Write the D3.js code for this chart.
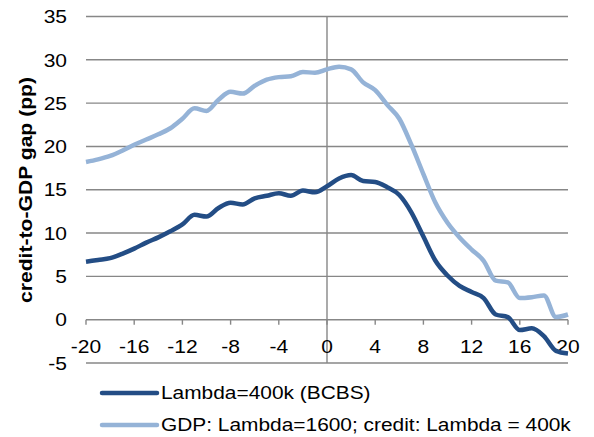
<!DOCTYPE html>
<html>
<head>
<meta charset="utf-8">
<script src="https://cdn.jsdelivr.net/npm/d3@7"></script>
<style>
  body { margin: 0; background: #fff; }
  text { font-family: Arial, "Liberation Sans", sans-serif; fill: #000; }
</style>
</head>
<body>
<div class="gap-plot"></div>
<script>
// quarters around the crisis, t = 0
const quarters = d3.range(-20, 21);

const bcbs = [6.7, 6.9, 7.1, 7.6, 8.2, 8.9, 9.5, 10.2, 11.0, 12.1,
  11.9, 12.9, 13.5, 13.3, 14.0, 14.3, 14.6, 14.3, 14.9, 14.7,
  15.4, 16.3, 16.7, 16.0, 15.9, 15.3, 14.4, 12.4, 9.6, 6.8,
  5.1, 3.9, 3.2, 2.5, 0.6, 0.3, -1.2, -1.0, -1.9, -3.6, -3.9];

const gdp1600 = [18.2, 18.5, 18.9, 19.5, 20.2, 20.8, 21.4, 22.1, 23.2, 24.4,
  24.1, 25.4, 26.3, 26.1, 27.0, 27.7, 28.0, 28.1, 28.6, 28.5,
  28.9, 29.2, 28.9, 27.4, 26.5, 24.8, 23.2, 20.2, 16.8, 13.5,
  11.2, 9.5, 8.1, 6.8, 4.5, 4.3, 2.5, 2.6, 2.8, 0.3, 0.6];

const xTicks = d3.range(-20, 21, 4);
const yTicks = d3.range(-5, 36, 5);

const seriesNames = ['Lambda=400k (BCBS)', 'GDP: Lambda=1600; credit: Lambda = 400k'];
const seriesColors = ['#234d85', '#95b3d7'];

const width = 594;
const height = 437;
const stretch = 1.13;

const svg = d3.select('.gap-plot').append('svg')
  .attr('width', width)
  .attr('height', height);

const x = d3.scaleLinear()
  .domain([-20, 20])
  .range([86, 568]);

const y = d3.scaleLinear()
  .domain([-5, 35])
  .range([363, 16.5]);

// horizontal gridlines
svg.selectAll('.grid')
  .data(yTicks)
  .enter()
  .append('line')
  .attr('x1', x(-20))
  .attr('x2', x(20))
  .attr('y1', d => y(d))
  .attr('y2', d => y(d))
  .attr('stroke', '#878787')
  .attr('stroke-width', 1.4);

// vertical axis through zero
svg.append('line')
  .attr('x1', x(0))
  .attr('x2', x(0))
  .attr('y1', y(35))
  .attr('y2', y(-5))
  .attr('stroke', '#878787')
  .attr('stroke-width', 1.4);

// x ticks on the zero line
svg.selectAll('.xtick')
  .data(xTicks)
  .enter()
  .append('line')
  .attr('x1', d => x(d))
  .attr('x2', d => x(d))
  .attr('y1', y(0))
  .attr('y2', y(0) + 5)
  .attr('stroke', '#878787')
  .attr('stroke-width', 1.4);

svg.selectAll('.xlabel')
  .data(xTicks)
  .enter()
  .append('text')
  .attr('transform', d => `translate(${x(d)},353) scale(${stretch},1)`)
  .attr('text-anchor', 'middle')
  .attr('font-size', 18.6)
  .text(d => d);

svg.selectAll('.ylabel')
  .data(yTicks)
  .enter()
  .append('text')
  .attr('transform', d => `translate(67,${y(d)}) scale(${stretch},1)`)
  .attr('dy', '0.36em')
  .attr('text-anchor', 'end')
  .attr('font-size', 18.6)
  .text(d => d);

svg.append('text')
  .attr('transform', 'translate(32,190) rotate(-90)')
  .attr('text-anchor', 'middle')
  .attr('font-size', 18.5)
  .attr('font-weight', 'bold')
  .attr('textLength', 226)
  .attr('lengthAdjust', 'spacingAndGlyphs')
  .text('credit-to-GDP gap (pp)');

const line = d3.line()
  .x((d, i) => x(quarters[i]))
  .y(d => y(d))
  .curve(d3.curveMonotoneX);

svg.append('path')
  .attr('d', line(gdp1600))
  .attr('fill', 'none')
  .attr('stroke', seriesColors[1])
  .attr('stroke-width', 4.5)
  .attr('stroke-linejoin', 'round');

svg.append('path')
  .attr('d', line(bcbs))
  .attr('fill', 'none')
  .attr('stroke', seriesColors[0])
  .attr('stroke-width', 4.5)
  .attr('stroke-linejoin', 'round');

// legend
const legend = svg.selectAll('.legend')
  .data(seriesNames)
  .enter()
  .append('g')
  .attr('transform', (d, i) => `translate(0,${393 + i * 32})`);

legend.append('line')
  .attr('x1', 102)
  .attr('x2', 157)
  .attr('y1', 0)
  .attr('y2', 0)
  .attr('stroke', (d, i) => seriesColors[i])
  .attr('stroke-width', 4.5)
  .attr('stroke-linecap', 'round');

legend.append('text')
  .attr('transform', `translate(161,6) scale(${stretch},1)`)
  .attr('font-size', 18.5)
  .text(d => d);
</script>
</body>
</html>
